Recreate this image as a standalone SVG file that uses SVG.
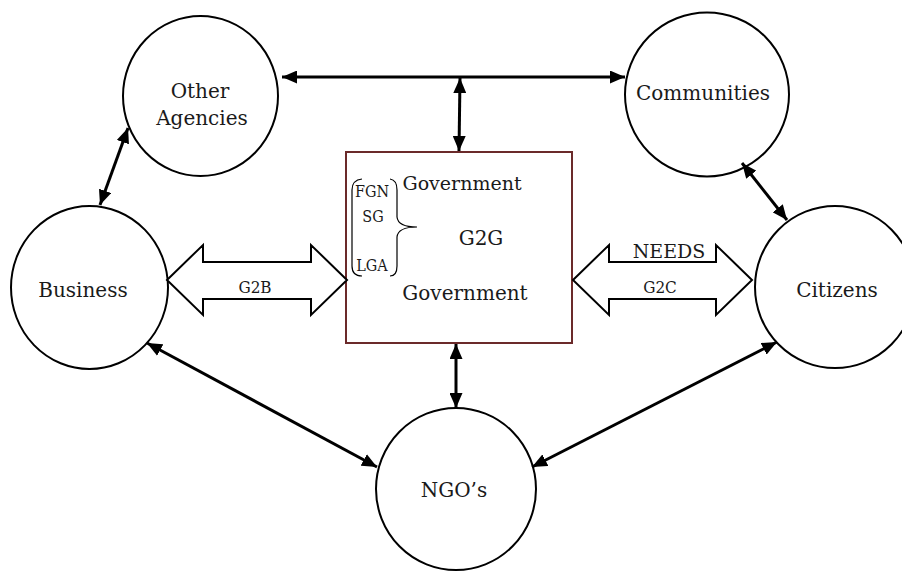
<svg xmlns="http://www.w3.org/2000/svg" width="902" height="575" viewBox="0 0 902 575">
<style>
.node{fill:#fff;stroke:#000;stroke-width:2}
.lbl{font-family:"DejaVu Serif",serif;font-size:20px;fill:#1a1a1a;text-anchor:middle}
.sm{font-family:"DejaVu Serif Condensed","DejaVu Serif",serif;font-stretch:condensed;font-size:16px;fill:#1a1a1a;text-anchor:middle}
.conn{stroke:#000;stroke-width:3;fill:none;marker-start:url(#ah);marker-end:url(#ah)}
.blk{fill:#fff;stroke:#000;stroke-width:2;stroke-linejoin:miter}
</style>
<defs>
<marker id="ah" viewBox="0 0 15 13" refX="15" refY="6.5" markerWidth="15" markerHeight="13" markerUnits="userSpaceOnUse" orient="auto-start-reverse">
<path d="M0,0 L15,6.5 L0,13 z" fill="#000"/>
</marker>
</defs>
<rect width="902" height="575" fill="#fff"/>

<g id="other-agencies">
<ellipse class="node" cx="200.5" cy="96" rx="77.5" ry="80"/>
<text class="lbl" x="200" y="98">Other</text>
<text class="lbl" x="202" y="125">Agencies</text>
</g>
<g id="communities">
<ellipse class="node" cx="707" cy="94.5" rx="82" ry="82"/>
<text class="lbl" x="703" y="100">Communities</text>
</g>
<g id="business">
<ellipse class="node" cx="89.5" cy="287.5" rx="78.5" ry="81.5"/>
<text class="lbl" x="83" y="297">Business</text>
</g>
<g id="citizens">
<ellipse class="node" cx="835" cy="287" rx="80" ry="81"/>
<text class="lbl" x="837" y="297">Citizens</text>
</g>
<g id="ngos">
<ellipse class="node" cx="456" cy="489" rx="80" ry="81"/>
<text class="lbl" x="454" y="497">NGO’s</text>
</g>

<g id="government">
<rect x="346" y="152" width="226" height="191" fill="#fff" stroke="#6b2a2a" stroke-width="2"/>
<text class="lbl" x="462" y="190" style="font-size:19px">Government</text>
<text class="lbl" x="481" y="245">G2G</text>
<text class="lbl" x="465" y="300">Government</text>
<text class="sm" x="372" y="197">FGN</text>
<text class="sm" x="373" y="222">SG</text>
<text class="sm" x="372" y="271">LGA</text>
<path d="M362,179 Q352,180 352,190 L352,266 Q352,276 362,276" fill="none" stroke="#000" stroke-width="1.2"/>
<path d="M390,179 Q397,180 397,190 L397,217 Q398,227 417,227 M417,227 Q398,227 397,237 L397,266 Q397,276 390,276" fill="none" stroke="#000" stroke-width="1.2"/>
</g>

<g id="connectors">
<line class="conn" x1="282" y1="77" x2="625" y2="77"/>
<line class="conn" x1="460" y1="78" x2="459" y2="151"/>
<line class="conn" x1="128" y1="128" x2="100" y2="205"/>
<line class="conn" x1="742" y1="163" x2="787" y2="220"/>
<line class="conn" x1="147" y1="343" x2="377" y2="467"/>
<line class="conn" x1="777" y1="342" x2="532" y2="467"/>
<line class="conn" x1="456" y1="344" x2="456" y2="408"/>
<g id="g2b">
<path class="blk" d="M167,280 L203,245 L203,262 L311,262 L311,245 L347,280 L311,315 L311,299 L203,299 L203,315 Z"/>
<text class="sm" x="255" y="293" style="font-size:17px">G2B</text>
</g>
<g id="g2c">
<path class="blk" d="M573,280 L609,245 L609,262 L716,262 L716,245 L752,280 L716,315 L716,299 L609,299 L609,315 Z"/>
<text class="sm" x="660" y="293" style="font-size:17px">G2C</text>
<text class="lbl" x="669" y="258" style="font-size:19px">NEEDS</text>
</g>
</g>
</svg>
